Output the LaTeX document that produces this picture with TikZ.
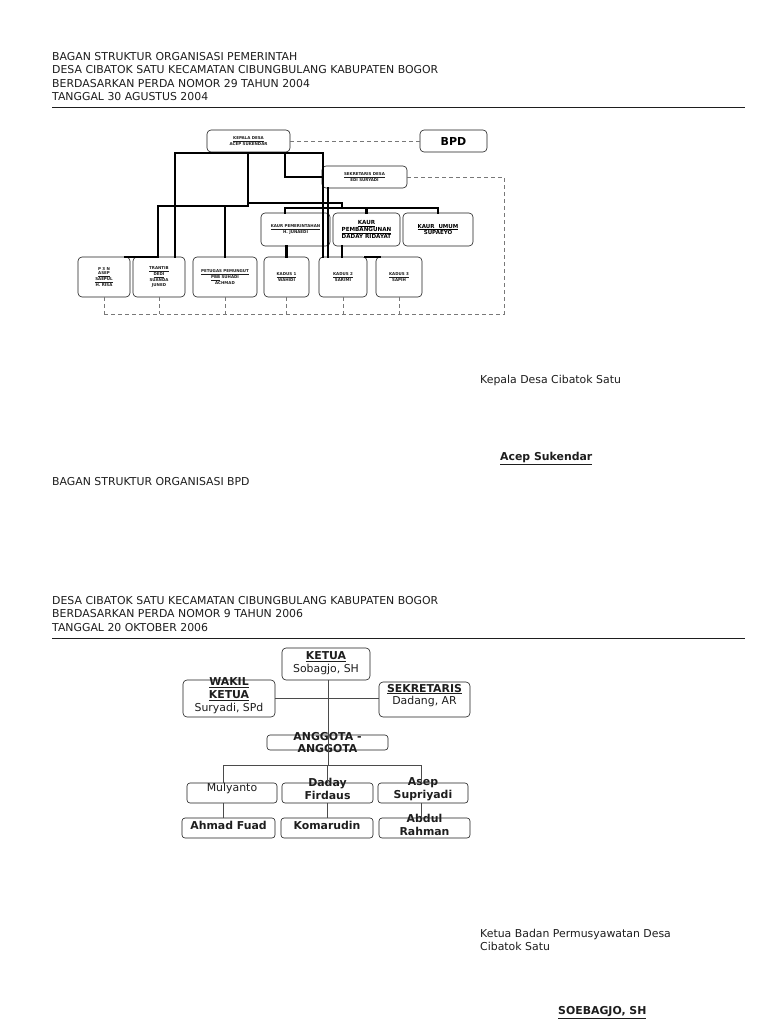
\documentclass[tikz,border=0pt]{standalone}
\usepackage{fontspec}
\setmainfont{DejaVu Sans}
\usepackage{xcolor}
\definecolor{garisabu}{RGB}{120,120,120}
\definecolor{tinta}{RGB}{30,30,30}
\usetikzlibrary{positioning}

\begin{document}
\begin{tikzpicture}[x=1pt, y=-1pt,
  kotak/.style={draw=tinta, rounded corners=4pt, line width=0.6pt, inner sep=0pt, align=center},
  mini/.style={font=\fontsize{4}{4.6}\selectfont\bfseries, text=tinta},
  tebal/.style={line width=2.2pt, line cap=rect},
  putus/.style={draw=garisabu, dash pattern=on 4pt off 3pt, line width=0.8pt},
  judul/.style={anchor=north west, inner sep=0pt, align=left, text=tinta, font=\fontsize{10.9}{13.4}\selectfont},
  isi/.style={inner sep=0pt, align=center, text=tinta, font=\fontsize{10.9}{12.8}\selectfont},
  garis/.style={draw=tinta!80, line width=0.7pt}]
  \useasboundingbox[fill=white] (0,0) rectangle (768,1024);

  % judul atas
  \node[judul] (judul1) at (52,52) {BAGAN STRUKTUR ORGANISASI PEMERINTAH\\DESA CIBATOK SATU KECAMATAN CIBUNGBULANG KABUPATEN BOGOR\\BERDASARKAN PERDA NOMOR 29 TAHUN 2004\\TANGGAL 30 AGUSTUS 2004};
  \draw[line width=0.9pt, tinta] (52,107) -- (745,107);

  % bagan pemerintah desa
  \node[kotak, minimum width=83, minimum height=22, mini] (kepala) at (248.5,141) {\underline{KEPALA DESA}\\ACEP SUKENDAR};
  \node[kotak, minimum width=67, minimum height=22, font=\fontsize{11}{12}\selectfont\bfseries] (bpd) at (453.5,141) {BPD};
  \node[kotak, minimum width=85, minimum height=22, mini] (sekretaris) at (364.5,177) {\underline{SEKRETARIS DESA}\\EDI SURYADI};
  \node[kotak, minimum width=69, minimum height=33, mini] (kaurpem) at (295.5,229.5) {\underline{KAUR PEMERINTAHAN}\\H. JUNAEDI};
  \node[kotak, minimum width=67, minimum height=33, font=\fontsize{5.6}{6.6}\selectfont\bfseries] (kaurbang) at (366.5,229.5) {\underline{KAUR}\\\underline{PEMBANGUNAN}\\DADAY RIDAYAT};
  \node[kotak, minimum width=70, minimum height=33, font=\fontsize{5.5}{6.5}\selectfont\bfseries] (kaurumum) at (438,229.5) {\underline{KAUR\ \ UMUM}\\SUPAEYO};
  \node[kotak, minimum width=52, minimum height=40, mini] (ppn) at (104,277) {P 3 N\\\underline{ASEP}\\\underline{SAEPUL}\\H. RISA};
  \node[kotak, minimum width=52, minimum height=40, mini] (trantib) at (159,277) {\underline{TRANTIB}\\\underline{DEDI}\\SUANDA\\JUNED};
  \node[kotak, minimum width=64, minimum height=40, mini] (petugas) at (225,277) {\underline{PETUGAS PEMUNGUT}\\\underline{PBB} SUHADI\\ACHMAD};
  \node[kotak, minimum width=45, minimum height=40, mini] (kadus1) at (286.5,277) {\underline{KADUS 1}\\WAHIDI};
  \node[kotak, minimum width=48, minimum height=40, mini] (kadus2) at (343,277) {\underline{KADUS 2}\\SARIMI};
  \node[kotak, minimum width=46, minimum height=40, mini] (kadus3) at (399,277) {\underline{KADUS 3}\\SAPIH};

  % titik simpul garis tebal
  \coordinate (k1) at (175,153);
  \coordinate (k2) at (323,153);
  \coordinate (b1) at (158,206);
  \coordinate (b2) at (248,206);
  \coordinate (s1) at (342,203);
  \coordinate (u1) at (285,208);
  \coordinate (u2) at (438,208);

  \draw[tebal] (b1 -| k1) -- (k1) -- (k2) -- (kadus2.north -| k2);
  \draw[tebal] (k1 -| b2) -- (b2);
  \draw[tebal] (b1) -- (b2);
  \draw[tebal] (b1) -- (trantib.north -| b1);
  \draw[tebal] (b1 -| k1) -- (trantib.north -| k1);
  \draw[tebal] (b1 -| petugas) -- (petugas.north);
  \draw[tebal] ([xshift=-5pt]ppn.north east) -- (trantib.north -| b1);
  \draw[tebal] (k1 -| u1) -- (sekretaris.west -| u1) -- (sekretaris.west);
  \draw[line width=1.3pt] (b2 |- s1) -- (s1) -- (s1 |- u1);
  \draw[tebal] (u1) -- (u2);
  \draw[tebal] (u1) -- (u1 |- kaurpem.north);
  \draw[tebal] (u1 -| kaurbang) -- (kaurbang.north);
  \draw[tebal] (u2) -- (kaurumum.north);
  \draw[tebal] ([xshift=6pt]sekretaris.south west) -- ([xshift=6pt]sekretaris.south west |- kadus2.north);
  \draw[tebal] (kaurpem.south -| kadus1) -- (kadus1.north);
  \draw[tebal] (kaurbang.south -| s1) -- (kadus2.north -| s1);
  \draw[tebal] ([xshift=-2pt,yshift=-0.5pt]kadus2.north east) -- ([xshift=4pt,yshift=-0.5pt]kadus3.north west);

  % garis koordinasi
  \coordinate (pojok) at (504,314);
  \draw[putus] (kepala.east) -- (bpd.west);
  \draw[putus] (sekretaris.east) -| (pojok) -- (pojok -| ppn);
  \foreach \k in {ppn,trantib,petugas,kadus1,kadus2,kadus3}
    \draw[putus] (\k.south) -- (\k.south |- pojok);

  % tanda tangan kepala desa
  \node[judul] (jabatan1) at (480,375) {Kepala Desa Cibatok Satu};
  \node[judul, font=\fontsize{10.9}{12}\selectfont\bfseries] (nama1) at (500,452) {\underline{Acep Sukendar}};

  % judul bpd
  \node[judul] (judul2) at (52,477) {BAGAN STRUKTUR ORGANISASI BPD};
  \node[judul] (judul3) at (52,596) {DESA CIBATOK SATU KECAMATAN CIBUNGBULANG KABUPATEN BOGOR\\BERDASARKAN PERDA NOMOR 9 TAHUN 2006\\TANGGAL 20 OKTOBER 2006};
  \draw[line width=0.9pt, tinta] (52,638) -- (745,638);

  % bagan bpd
  \node[kotak, minimum width=88, minimum height=32] (ketua) at (326,664) {};
  \node[kotak, minimum width=92, minimum height=37] (wakil) at (229,698.5) {};
  \node[kotak, minimum width=91, minimum height=35] (sekre) at (424.5,699.5) {};
  \node[kotak, rounded corners=3pt, minimum width=121, minimum height=15] (anggota) at (327.5,742.5) {};
  \node[kotak, rounded corners=3pt, minimum width=90, minimum height=20] (mulyanto) at (232,793) {};
  \node[kotak, rounded corners=3pt, minimum width=91, minimum height=20] (daday) at (327.5,793) {};
  \node[kotak, rounded corners=3pt, minimum width=90, minimum height=20] (asep) at (423,793) {};
  \node[kotak, rounded corners=3pt, minimum width=93, minimum height=20] (ahmad) at (228.5,828) {};
  \node[kotak, rounded corners=3pt, minimum width=92, minimum height=20] (komar) at (327,828) {};
  \node[kotak, rounded corners=3pt, minimum width=91, minimum height=20] (abdul) at (424.5,828) {};

  \node[isi] at ([yshift=1pt]ketua) {\textbf{\underline{KETUA}}\\Sobagjo, SH};
  \node[isi] at ([yshift=3pt]wakil) {\textbf{\underline{WAKIL}}\\\textbf{\underline{KETUA}}\\Suryadi, SPd};
  \node[isi] at ([yshift=4pt]sekre) {\textbf{\underline{SEKRETARIS}}\\Dadang, AR};
  \node[isi, font=\fontsize{10.9}{12}\selectfont\bfseries] at (anggota) {ANGGOTA -\\ANGGOTA};
  \node[isi] at ([yshift=4.5pt]mulyanto) {Mulyanto};
  \node[isi, font=\fontsize{10.9}{13.5}\selectfont\bfseries] at ([yshift=4pt]daday) {Daday\\Firdaus};
  \node[isi, font=\fontsize{10.9}{13.5}\selectfont\bfseries] at ([yshift=4pt]asep) {Asep\\Supriyadi};
  \node[isi, font=\fontsize{10.9}{12}\selectfont\bfseries] at ([yshift=3pt]ahmad) {Ahmad Fuad};
  \node[isi, font=\fontsize{10.9}{12}\selectfont\bfseries] at ([yshift=3pt]komar) {Komarudin};
  \node[isi, font=\fontsize{10.9}{13}\selectfont\bfseries] at ([yshift=3.5pt]abdul) {Abdul\\Rahman};

  \coordinate (ba) at (223,765);
  \coordinate (bb) at (421,765);
  \draw[garis] (wakil.east) -- (wakil.east -| sekre.west);
  \draw[garis] ([xshift=2pt]ketua.south) -- ([xshift=2pt]ketua.south |- ba);
  \draw[garis] (ba) -- (bb);
  \draw[garis] (ba) -- (ba |- mulyanto.north);
  \draw[garis] (ba -| daday) -- (daday.north);
  \draw[garis] (bb) -- (bb |- asep.north);
  \draw[garis] (ba |- mulyanto.south) -- (ba |- ahmad.north);
  \draw[garis] (daday.south) -- (daday.south |- komar.north);
  \draw[garis] (bb |- asep.south) -- (bb |- abdul.north);

  % tanda tangan ketua bpd
  \node[judul] (jabatan2) at (480,929) {Ketua Badan Permusyawatan Desa\\Cibatok Satu};
  \node[judul, font=\fontsize{10.9}{12}\selectfont\bfseries] (nama2) at (558,1006) {\underline{SOEBAGJO, SH}};
\end{tikzpicture}
\end{document}
